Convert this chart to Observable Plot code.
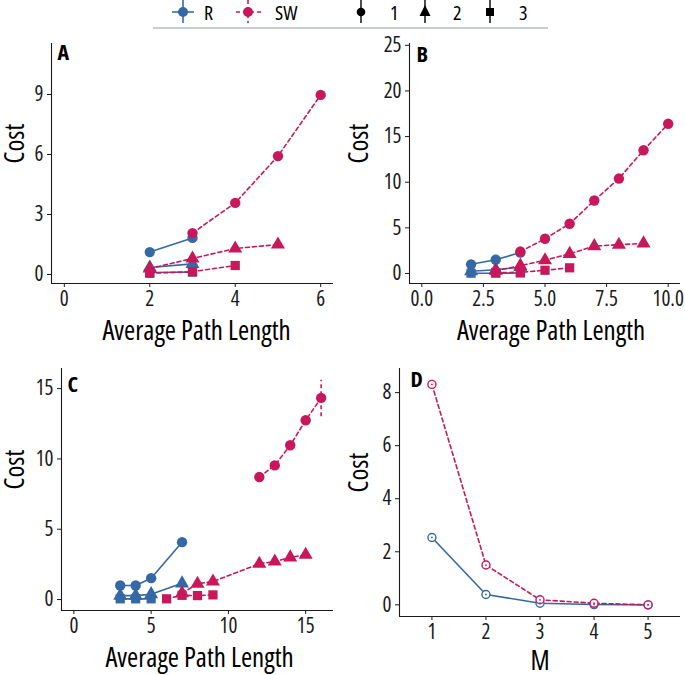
<!DOCTYPE html>
<html>
<head>
<meta charset="utf-8">
<script src="https://cdn.jsdelivr.net/npm/d3@7"></script>
<script src="https://cdn.jsdelivr.net/npm/@observablehq/plot@0.6"></script>
<style>
  html, body { margin: 0; padding: 0; background: #fff; }
  #root { position: relative; width: 685px; height: 675px; overflow: hidden; }
  .cell { position: absolute; }
  #probe { position: absolute; left: -2000px; top: 0; white-space: nowrap; font-size: 25px; }
</style>
</head>
<body>
<div id="root">
  <div id="legend" class="cell" style="left:0;top:0;"></div>
  <div id="pA" class="cell" style="left:0;top:30px;"></div>
  <div id="pB" class="cell" style="left:340px;top:30px;"></div>
  <div id="pC" class="cell" style="left:0;top:335px;"></div>
  <div id="pD" class="cell" style="left:340px;top:335px;"></div>
</div>
<span id="probe"></span>
<script>
// ---------- colours & categories ----------
const nets = ["R", "SW"];
const levels = ["1", "2", "3"];
const netColors = ["#3469A6", "#C8185B"];
const levelSymbols = ["circle", "triangle", "square"];

// ---------- Panel A ----------
const A_R_x   = [2, 3];
const A_R_1   = [1.12, 1.83];
const A_R_2   = [0.35, 0.53];
const A_R_3   = [0.10, 0.12];
const A_SW1_x = [3, 4, 5, 6];
const A_SW_1  = [2.07, 3.58, 5.92, 8.98];
const A_SW2_x = [2, 3, 4, 5];
const A_SW_2  = [0.30, 0.80, 1.30, 1.50];
const A_SW3_x = [2, 3, 4];
const A_SW_3  = [0.06, 0.14, 0.45];

// ---------- Panel B ----------
const B_R_x   = [2, 3, 4];
const B_R_1   = [1.0, 1.5, 2.3];
const B_R_2   = [0.25, 0.40, 0.70];
const B_R_3   = [0.03, 0.03, 0.05];
const B_SW1_x = [4, 5, 6, 7, 8, 9, 10];
const B_SW_1  = [2.4, 3.8, 5.45, 8.0, 10.4, 13.5, 16.4];
const B_SW2_x = [3, 4, 5, 6, 7, 8, 9];
const B_SW_2  = [0.3, 0.85, 1.45, 2.15, 3.0, 3.15, 3.3];
const B_SW3_x = [3, 4, 5, 6];
const B_SW_3  = [0.10, 0.12, 0.35, 0.62];

// ---------- Panel C ----------
const C_R1_x  = [3, 4, 5, 7];
const C_R_1   = [1.0, 1.0, 1.52, 4.08];
const C_R2_x  = [3, 4, 5, 7];
const C_R_2   = [0.28, 0.28, 0.38, 1.15];
const C_R3_x  = [3, 4, 5];
const C_R_3   = [0.05, 0.05, 0.05];
const C_SW1_x = [12, 13, 14, 15, 16];
const C_SW_1  = [8.71, 9.54, 10.97, 12.75, 14.34];
const C_SW_1_lo = [8.6, 9.4, 10.8, 12.5, 13.0];
const C_SW_1_hi = [8.8, 9.7, 11.1, 12.9, 15.6];
const C_SW2_x = [7, 8, 9, 12, 13, 14, 15];
const C_SW_2  = [0.45, 1.12, 1.28, 2.54, 2.7, 3.0, 3.18];
const C_SW3_x = [6, 7, 8, 9];
const C_SW_3  = [0.05, 0.3, 0.28, 0.33];

// ---------- Panel D ----------
const D_M     = [1, 2, 3, 4, 5];
const D_R     = [2.54, 0.39, 0.06, 0.01, 0.0];
const D_SW    = [8.31, 1.50, 0.19, 0.06, 0.0];

// ---------- tick labels ----------
const A_xTicks = [0, 2, 4, 6],          A_yTicks = [0, 3, 6, 9];
const B_xTicks = [0, 2.5, 5, 7.5, 10],  B_yTicks = [0, 5, 10, 15, 20, 25];
const C_xTicks = [0, 5, 10, 15],        C_yTicks = [0, 5, 10, 15];
const D_xTicks = [1, 2, 3, 4, 5],       D_yTicks = [0, 2, 4, 6, 8];

// ---------- pick the most condensed installed face (reference uses a condensed sans) ----------
const candidates = [
  ['"Liberation Sans Narrow"', "normal"],
  ['"Open Sans"', "75%"],
  ['"Noto Sans"', "condensed"],
  ['"DejaVu Sans Condensed"', "normal"],
  ['"DejaVu Sans"', "condensed"],
  ['"Roboto"', "normal"]
];
let FONT = '"DejaVu Sans", sans-serif', STRETCH = "normal";
(function pickFont() {
  const probe = document.getElementById("probe");
  probe.textContent = "Average Path Length";
  let best = Infinity;
  for (const [fam, st] of candidates) {
    probe.style.fontFamily = fam + ", monospace";
    probe.style.fontStretch = st;
    const w = probe.getBoundingClientRect().width;
    const err = Math.abs(w - 200);
    if (err < best) { best = err; FONT = fam + ", sans-serif"; STRETCH = st; }
  }
  probe.remove();
  const root = document.getElementById("root");
  root.style.fontFamily = FONT;
  root.style.fontStretch = STRETCH;
})();

const INK = "#1a1a1a";
const intFmt = d3.format("d");
const TICK_FS = 21, TITLE_FS = 27, TAG_FS = 22;

// ---------- helpers ----------
function series(net, level, xs, ys, lo, hi) {
  return xs.map((x, i) => ({net, level, x, y: ys[i],
    lo: lo ? lo[i] : ys[i], hi: hi ? hi[i] : ys[i]}));
}

function panel(o) {
  const data = o.rows;
  const R = data.filter(d => d.net === "R");
  const SW = data.filter(d => d.net === "SW");
  const marks = [
    Plot.ruleY([o.yDom[0]], {stroke: INK, strokeWidth: 1.1}),
    Plot.ruleX([o.xDom[0]], {stroke: INK, strokeWidth: 1.1}),
    Plot.axisX({ticks: o.xTicks, tickFormat: o.xFmt || intFmt, tickSize: 4, tickPadding: 4,
                label: null, fontSize: TICK_FS, stroke: INK, fill: INK}),
    Plot.axisY({ticks: o.yTicks, tickFormat: intFmt, tickSize: 4, tickPadding: 4,
                label: null, fontSize: TICK_FS, stroke: INK, fill: INK}),
    Plot.line(R, {x: "x", y: "y", z: "level", stroke: "net", strokeWidth: 1.6}),
    Plot.line(SW, {x: "x", y: "y", z: "level", stroke: "net", strokeWidth: 1.6, strokeDasharray: "4,3"}),
    Plot.ruleX(data.filter(d => d.hi - d.lo > 0.5), {x: "x", y1: "lo", y2: "hi", stroke: "net",
                strokeWidth: 1.6, strokeDasharray: "4,3"})
  ];
  if (o.open) {
    marks.push(Plot.dot(R, {x: "x", y: "y", stroke: "net", fill: "white", r: 4, strokeWidth: 1.4}));
    marks.push(Plot.dot(SW, {x: "x", y: "y", stroke: "net", fill: "white", r: 4, strokeWidth: 1.4}));
    marks.push(Plot.dot(data, {x: "x", y: "y", fill: "net", r: 0.9}));
  } else {
    marks.push(Plot.dot(R, {x: "x", y: "y", fill: "net", symbol: "level", r: 5.2}));
    marks.push(Plot.dot(SW, {x: "x", y: "y", fill: "net", symbol: "level", r: 5.2}));
  }
  marks.push(Plot.text([o.tag], {frameAnchor: "top-left", textAnchor: "start", lineAnchor: "top",
    dx: o.tagDx, dy: o.tagDy, fontWeight: "bold", fontSize: TAG_FS, fill: "#000"}));
  marks.push(Plot.text([o.xLabel], {frameAnchor: "bottom", lineAnchor: "top",
    dy: o.xLabDy, dx: o.xLabDx || 0, fontSize: TITLE_FS, fill: "#000"}));
  marks.push(Plot.text(["Cost"], {frameAnchor: "left", rotate: -90, dx: o.costDx,
    fontSize: TITLE_FS, fill: "#000"}));

  const chart = Plot.plot({
    width: o.width, height: o.height,
    marginLeft: o.mL, marginRight: o.mR, marginTop: o.mT, marginBottom: o.mB,
    x: {domain: o.xDom},
    y: {domain: o.yDom},
    color: {domain: nets, range: netColors},
    symbol: {domain: levels, range: levelSymbols},
    style: {fontFamily: FONT, fontStretch: STRETCH, fontSize: TICK_FS + "px", color: INK,
            background: "transparent", overflow: "visible"},
    marks
  });
  document.getElementById(o.el).appendChild(chart);
}

// ---------- build panels ----------
panel({
  el: "pA", width: 340, height: 305, mL: 51, mR: 7, mT: 13, mB: 52,
  xDom: [-0.3, 6.3], yDom: [-0.45, 11.55], xTicks: A_xTicks, yTicks: A_yTicks,
  tag: "A", tagDx: 6, tagDy: 1, xLabel: "Average Path Length", xLabDy: 37, xLabDx: 4, costDx: -36,
  rows: [
    ...series("R", "1", A_R_x, A_R_1), ...series("R", "2", A_R_x, A_R_2), ...series("R", "3", A_R_x, A_R_3),
    ...series("SW", "1", A_SW1_x, A_SW_1), ...series("SW", "2", A_SW2_x, A_SW_2), ...series("SW", "3", A_SW3_x, A_SW_3)
  ]
});

panel({
  el: "pB", width: 345, height: 305, mL: 69, mR: 5, mT: 13, mB: 52,
  xDom: [-0.5, 10.5], yDom: [-1.1, 25.2], xTicks: B_xTicks, yTicks: B_yTicks, xFmt: d3.format(".1f"),
  tag: "B", tagDx: 7, tagDy: 3, xLabel: "Average Path Length", xLabDy: 37, xLabDx: 6, costDx: -50,
  rows: [
    ...series("R", "1", B_R_x, B_R_1), ...series("R", "2", B_R_x, B_R_2), ...series("R", "3", B_R_x, B_R_3),
    ...series("SW", "1", B_SW1_x, B_SW_1), ...series("SW", "2", B_SW2_x, B_SW_2), ...series("SW", "3", B_SW3_x, B_SW_3)
  ]
});

panel({
  el: "pC", width: 340, height: 340, mL: 61, mR: 7, mT: 33, mB: 65,
  xDom: [-0.8, 16.8], yDom: [-0.78, 16.43], xTicks: C_xTicks, yTicks: C_yTicks,
  tag: "C", tagDx: 6, tagDy: 8, xLabel: "Average Path Length", xLabDy: 37, xLabDx: 2, costDx: -46,
  rows: [
    ...series("R", "1", C_R1_x, C_R_1), ...series("R", "2", C_R2_x, C_R_2), ...series("R", "3", C_R3_x, C_R_3),
    ...series("SW", "1", C_SW1_x, C_SW_1, C_SW_1_lo, C_SW_1_hi),
    ...series("SW", "2", C_SW2_x, C_SW_2), ...series("SW", "3", C_SW3_x, C_SW_3)
  ]
});

panel({
  el: "pD", width: 345, height: 340, mL: 59, mR: 5, mT: 33, mB: 59, open: true,
  xDom: [0.4, 5.6], yDom: [-0.44, 8.91], xTicks: D_xTicks, yTicks: D_yTicks,
  tag: "D", tagDx: 11, tagDy: 3, xLabel: "M", xLabDy: 34, costDx: -40,
  rows: [...series("R", "1", D_M, D_R), ...series("SW", "1", D_M, D_SW)]
});

// ---------- legend ----------
(function legend() {
  const [cR, cSW] = netColors;
  const svg = `
  <svg width="685" height="32" xmlns="http://www.w3.org/2000/svg" style="display:block">
    <g stroke="${cR}" stroke-width="1.6">
      <line x1="172" x2="194" y1="12" y2="12"/><line x1="183" x2="183" y1="0" y2="23"/>
    </g>
    <circle cx="183" cy="12" r="5" fill="${cR}"/>
    <text x="204" y="19.5" font-size="20" fill="#000">${nets[0]}</text>
    <g stroke="${cSW}" stroke-width="1.6" stroke-dasharray="4,3">
      <line x1="236" x2="261" y1="12" y2="12"/><line x1="248" x2="248" y1="0" y2="23"/>
    </g>
    <circle cx="248" cy="12" r="5" fill="${cSW}"/>
    <text x="275" y="19.5" font-size="20" fill="#000">${nets[1]}</text>
    <line x1="361" x2="361" y1="0" y2="23" stroke="#000" stroke-width="1.4"/>
    <circle cx="361" cy="12" r="4.3" fill="#000"/>
    <text x="390" y="19.5" font-size="20" fill="#000">${levels[0]}</text>
    <line x1="425" x2="425" y1="0" y2="23" stroke="#000" stroke-width="1.4"/>
    <path d="M425,5 L430.5,16 L419.5,16 Z" fill="#000"/>
    <text x="453" y="19.5" font-size="20" fill="#000">${levels[1]}</text>
    <line x1="490" x2="490" y1="0" y2="23" stroke="#000" stroke-width="1.4"/>
    <rect x="486" y="8" width="8" height="8" fill="#000"/>
    <text x="519" y="19.5" font-size="20" fill="#000">${levels[2]}</text>
    <line x1="153" x2="548" y1="28" y2="28" stroke="#c9ced6" stroke-width="2"/>
  </svg>`;
  document.getElementById("legend").innerHTML = svg;
})();
</script>
</body>
</html>
